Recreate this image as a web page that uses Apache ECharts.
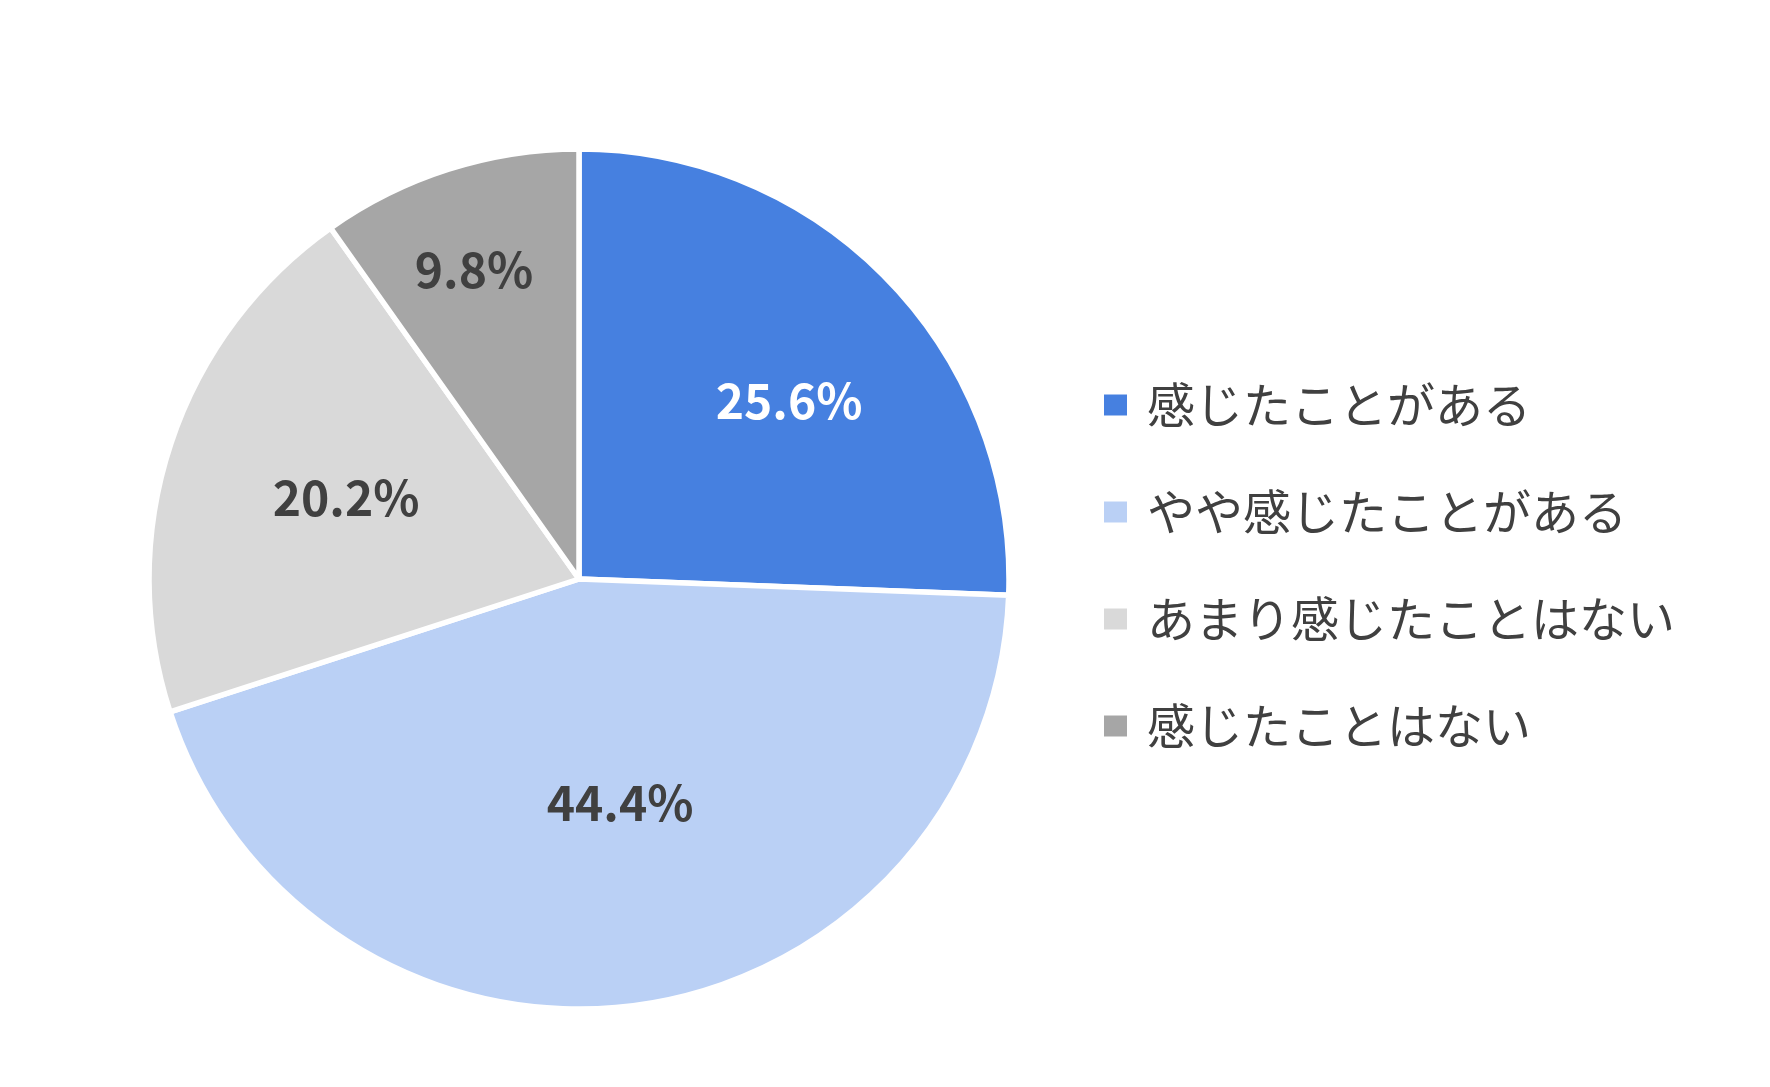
<!DOCTYPE html>
<html>
<head>
<meta charset="utf-8">
<script src="https://cdn.jsdelivr.net/npm/echarts@6/dist/echarts.min.js"></script>
<style>
html,body{margin:0;padding:0;background:#fff;}
#main{width:1770px;height:1087px;}
</style>
</head>
<body>
<div id="main"></div>
<script>
const categories = ['感じたことがある', 'やや感じたことがある', 'あまり感じたことはない', '感じたことはない'];
const values = [25.6, 44.4, 20.2, 9.8];
const colors = ['#4680E0', '#BAD0F5', '#D9D9D9', '#A6A6A6'];
const labelColors = ['#FFFFFF', '#404040', '#404040', '#404040'];
// label nudges (px) relative to the default "inside" label position
const labelOffsets = [[53, -27], [11, 8], [-26, -13], [-39, -101]];

const data = categories.map((name, i) => ({
  name: name,
  value: values[i],
  itemStyle: { color: colors[i] },
  label: { color: labelColors[i], offset: labelOffsets[i] }
}));

const chart = echarts.init(document.getElementById('main'));
chart.setOption({
  animation: false,
  backgroundColor: '#ffffff',
  legend: {
    orient: 'vertical',
    left: 1102,
    top: 381,
    padding: 0,
    itemWidth: 25,
    itemHeight: 23,
    itemGap: 59,
    icon: 'rect',
    data: categories,
    textStyle: {
      fontFamily: 'Noto Sans CJK JP',
      fontSize: 48,
      lineHeight: 48,
      color: '#404040',
      padding: [0, 0, 0, 14]
    }
  },
  series: [{
    type: 'pie',
    center: [579, 579],
    radius: [0, 430],
    startAngle: 90,
    clockwise: true,
    avoidLabelOverlap: false,
    itemStyle: { borderColor: '#ffffff', borderWidth: 5.5 },
    label: {
      show: true,
      position: 'inside',
      formatter: p => p.value.toFixed(1) + '%',
      fontFamily: 'Noto Sans CJK JP',
      fontWeight: 'bold',
      fontSize: 48
    },
    labelLine: { show: false },
    emphasis: { disabled: true },
    data: data
  }]
});
</script>
</body>
</html>
